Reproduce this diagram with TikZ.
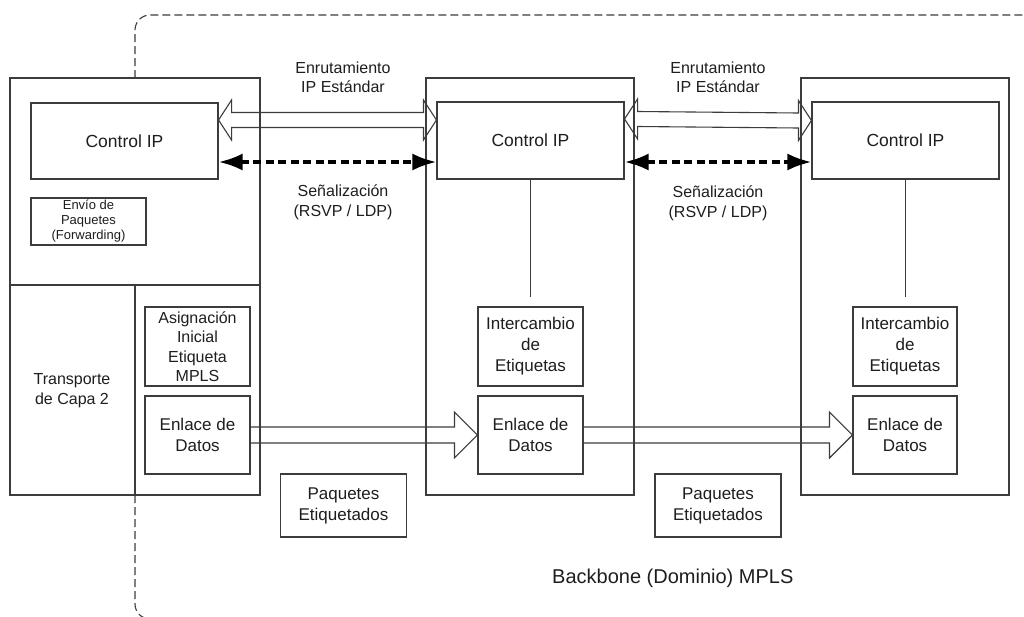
\documentclass[tikz,border=0pt]{standalone}
\usepackage{fontspec}
\setmainfont{Liberation Sans}
\usetikzlibrary{calc,arrows.meta}
\definecolor{linec}{RGB}{60,60,60}
\definecolor{textc}{RGB}{30,30,30}
\newcommand{\fs}[2]{\fontsize{#1}{#2}\selectfont}
\tikzset{
  box/.style={draw=linec, line width=1.1pt, inner sep=0pt, align=center, text=textc},
  plain/.style={inner sep=0pt, align=center, text=textc},
  thin/.style={draw=linec, line width=1.1pt},
  blockarr/.style={draw=linec, line width=1.1pt, line join=miter},
  sigarr/.style={draw=black, line width=3.6pt, dash pattern=on 8pt off 4.5pt,
    {Latex[length=24pt,width=17pt]}-{Latex[length=24pt,width=17pt]}},
  region/.style={draw=linec, line width=1.1pt, dash pattern=on 8pt off 4pt, rounded corners=15pt}
}
\begin{document}
\begin{tikzpicture}[x=1pt,y=-1pt]
\useasboundingbox[fill=white] (0,0) rectangle (1024,616);

% dashed MPLS backbone region
\begin{scope}
\clip (0,0) rectangle (1024,616);
\draw[region] (135,78) -- (135,15) -- (1040,15);
\draw[region] (135,495) -- (135,619) -- (1040,619);
\end{scope}

% ---------- left router ----------
\node[box, minimum width=250pt, minimum height=417pt] (L) at (135,286.5) {};
\coordinate (Ldl) at (10,285);
\coordinate (Ldr) at (260,285);
\coordinate (Ldb) at (135,495);
\draw[thin] (Ldl) -- (Ldr);
\draw[thin] (135,285) -- (Ldb);
\node[box, minimum width=187pt, minimum height=76pt, font=\fs{17.5}{20.5}] (Lctrl) at (124.5,141) {Control IP};
\node[box, minimum width=115pt, minimum height=47pt, font=\fs{13}{15}] (Lenv) at (88.5,221.5) {Envío de\\Paquetes\\(Forwarding)};
\node[plain, font=\fs{16}{20}] (Ltr) at (72,391) {Transporte\\de Capa 2};
\node[box, minimum width=105pt, minimum height=79pt, font=\fs{16}{19.5}] (Lasig) at (197.5,346.5) {Asignación\\Inicial\\Etiqueta\\MPLS};
\node[box, minimum width=105pt, minimum height=78pt, font=\fs{17}{21}] (Lenl) at (197.5,435) {Enlace de\\Datos};

% ---------- middle router ----------
\node[box, minimum width=208pt, minimum height=417pt] (M) at (530,286.5) {};
\node[box, minimum width=187pt, minimum height=77pt, font=\fs{17.5}{20.5}] (Mctrl) at (530.5,140.5) {Control IP};
\node[box, minimum width=105pt, minimum height=79pt, font=\fs{17}{21}] (Mint) at (530.5,346.5) {Intercambio\\de\\Etiquetas};
\node[box, minimum width=105pt, minimum height=78pt, font=\fs{17}{21}] (Menl) at (530.5,435) {Enlace de\\Datos};
\coordinate (Mlink) at (530.5,297);
\draw[thin] (Mctrl.south) -- (Mlink);

% ---------- right router ----------
\node[box, minimum width=208pt, minimum height=417pt] (R) at (905,286.5) {};
\node[box, minimum width=187pt, minimum height=77pt, font=\fs{17.5}{20.5}] (Rctrl) at (905.5,140.5) {Control IP};
\node[box, minimum width=104pt, minimum height=79pt, font=\fs{17}{21}] (Rint) at (905,346.5) {Intercambio\\de\\Etiquetas};
\node[box, minimum width=104pt, minimum height=78pt, font=\fs{17}{21}] (Renl) at (905,435) {Enlace de\\Datos};
\coordinate (Rlink) at (905.5,297);
\draw[thin] (Rctrl.south) -- (Rlink);

% ---------- packet boxes ----------
\node[box, minimum width=126pt, minimum height=63pt, font=\fs{17}{21}] (P1) at (343.5,505.5) {Paquetes\\Etiquetados};
\node[box, minimum width=126pt, minimum height=63pt, font=\fs{17}{21}] (P2) at (718,505.5) {Paquetes\\Etiquetados};

% ---------- labels ----------
\node[plain, font=\fs{16}{19}] (E1) at (343,77.5) {Enrutamiento\\IP Estándar};
\node[plain, font=\fs{16}{19}] (E2) at (718,77.5) {Enrutamiento\\IP Estándar};
\node[plain, font=\fs{16}{20}] (S1) at (343,202) {Señalización\\(RSVP / LDP)};
\node[plain, font=\fs{16}{20}] (S2) at (718,203) {Señalización\\(RSVP / LDP)};
\node[plain, font=\fs{20}{24}, anchor=west] (BB) at (552,578) {Backbone (Dominio) MPLS};

% ---------- hollow routing arrows (double headed) ----------
\coordinate (a1) at ($(Lctrl.east)+(0,-21)$);
\coordinate (a2) at ($(Mctrl.west)+(0,-20.5)$);
\draw[blockarr] (a1) -- ++(13,-20) -- ++(0,12.5) -- ($(a2)+(-13,-7.5)$) -- ++(0,-12.5)
  -- (a2) -- ++(-13,20) -- ++(0,-12.5) -- ($(a1)+(13,7.5)$) -- ++(0,12.5) -- cycle;
\coordinate (b1) at ($(Mctrl.east)+(0,-21.5)$);
\coordinate (b2) at ($(Rctrl.west)+(0,-20)$);
\draw[blockarr] (b1) -- ++(13,-20) -- ++(0,12.5) -- ($(b2)+(-13,-7.5)$) -- ++(0,-12.5)
  -- (b2) -- ++(-13,20) -- ++(0,-12.5) -- ($(b1)+(13,7.5)$) -- ++(0,12.5) -- cycle;

% ---------- signalling dashed arrows ----------
\draw[sigarr] ($(Lctrl.east)+(0,21)$) -- ($(Mctrl.west)+(0,21.5)$);
\draw[sigarr] ($(Mctrl.east)+(0,21.5)$) -- ($(Rctrl.west)+(0,21.5)$);

% ---------- hollow data arrows ----------
\draw[blockarr] ($(Lenl.east)+(0,-8)$) -- ($(Menl.west)+(-23,-8)$) -- ++(0,-15)
  -- (Menl.west) -- ++(-23,23) -- ++(0,-15) -- ($(Lenl.east)+(0,8)$);
\draw[blockarr] ($(Menl.east)+(0,-8)$) -- ($(Renl.west)+(-23,-8)$) -- ++(0,-15)
  -- (Renl.west) -- ++(-23,23) -- ++(0,-15) -- ($(Menl.east)+(0,8)$);
\end{tikzpicture}
\end{document}
